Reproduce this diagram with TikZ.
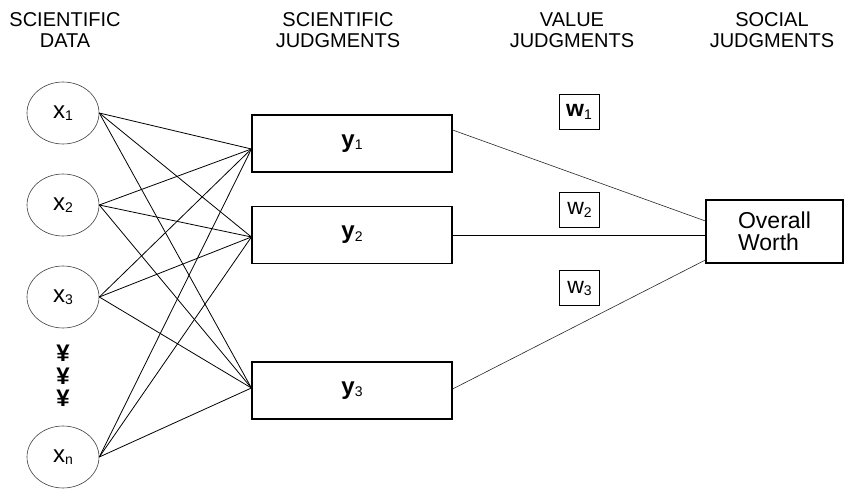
\documentclass[tikz,border=0pt]{standalone}
\usepackage{fontspec}
\setmainfont{Liberation Sans}
\usetikzlibrary{shapes.geometric}
\newcommand\lbl[2]{#1\raisebox{-2.5pt}{\mdseries\fontsize{14}{14}\selectfont #2}}
\begin{document}
\begin{tikzpicture}[x=1pt,y=-1pt,
  hdr/.style={align=center,font=\fontsize{20}{21}\selectfont,inner sep=0pt,anchor=north},
  datnode/.style={draw=black!75,line width=0.6pt,ellipse,minimum width=72pt,minimum height=62pt,inner sep=0pt,font=\fontsize{24}{24}\selectfont},
  judg/.style={draw,line width=1.2pt,minimum width=200pt,minimum height=57pt,inner sep=0pt,font=\bfseries\fontsize{24}{24}\selectfont},
  wbox/.style={draw,line width=1pt,minimum width=40pt,minimum height=35pt,inner sep=0pt,font=\fontsize{23}{23}\selectfont},
  owbox/.style={draw,line width=1.2pt,minimum width=137pt,minimum height=63pt,inner sep=0pt,align=left,font=\fontsize{23}{22}\selectfont},
  dots/.style={font=\bfseries\fontsize{24}{24}\selectfont,inner sep=0pt},
  conn/.style={line width=0.8pt},
  thinconn/.style={line width=0.6pt,draw=black!85},
  midconn/.style={line width=0.9pt}]
\useasboundingbox (0,0) rectangle (844,489);
% headers
\node[hdr] (h1) at (65,12.5) {SCIENTIFIC\\DATA};
\node[hdr] (h2) at (338,12.5) {SCIENTIFIC\\JUDGMENTS};
\node[hdr] (h3) at (572,12.5) {VALUE\\JUDGMENTS};
\node[hdr] (h4) at (772,12.5) {SOCIAL\\JUDGMENTS};
% data nodes
\node[datnode] (x1) at (63,113) {\lbl{x}{1}};
\node[datnode] (x2) at (63,205) {\lbl{x}{2}};
\node[datnode] (x3) at (63,297) {\lbl{x}{3}};
\node[datnode] (xn) at (63,457) {\lbl{x}{n}};
\node[dots] (d1) at (63,353) {¥};
\node[dots] (d2) at (63,376) {¥};
\node[dots] (d3) at (63,398) {¥};
% judgments
\node[judg] (y1) at (352,143.5) {\lbl{y}{1}};
\node[judg] (y2) at (352,235) {\lbl{y}{2}};
\node[judg] (y3) at (352,390.5) {\lbl{y}{3}};
% weights
\node[wbox] (w1) at (579,112) {\bfseries\lbl{w}{1}};
\node[wbox] (w2) at (579.5,210) {\lbl{w}{2}};
\node[wbox] (w3) at (579.5,288.5) {\lbl{w}{3}};
% overall
\node[owbox] (ow) at (774.5,231.5) {Overall\\Worth};
% connectors
\foreach \s in {x1,x2,x3,xn}{
  \draw[conn] (\s.east) -- ([yshift=-5.5pt]y1.west);
  \draw[conn] (\s.east) -- ([yshift=-2pt]y2.west);
  \draw[conn] (\s.east) -- ([yshift=2.5pt]y3.west);
}
\draw[thinconn] ([yshift=13.5pt]y1.east) -- ([yshift=10.5pt]ow.west);
\draw[midconn] (y2.east) -- (y2.east -| ow.west);
\draw[thinconn] ([yshift=1.5pt]y3.east) -- ([yshift=-28.5pt]ow.west);
\end{tikzpicture}
\end{document}
